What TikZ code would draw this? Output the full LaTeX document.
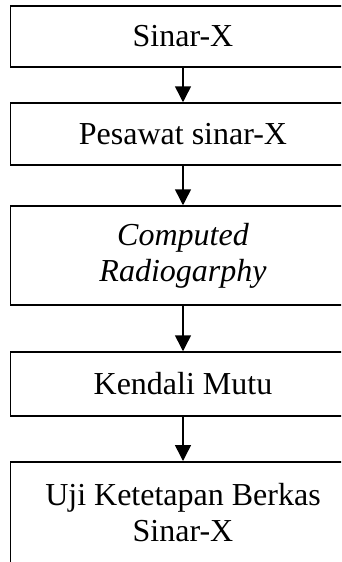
\documentclass[tikz,border=0pt]{standalone}
\usepackage{fontspec}
\setmainfont{Liberation Serif}
\usepackage{xcolor}
\usetikzlibrary{arrows.meta,positioning}
\definecolor{ink}{HTML}{000000}
\tikzset{
  kotak/.style={draw=ink,line width=1.5pt,minimum width=345pt,align=center,
                inner sep=0pt,font=\fontsize{32}{36}\selectfont},
  panah/.style={draw=ink,line width=1.5pt,-{Triangle[width=16pt,length=16pt]}}
}

\begin{document}
\begin{tikzpicture}[x=1pt,y=-1pt]
      \useasboundingbox (0,0) rectangle (341,562);
      \clip (0,0) rectangle (341,562);
      \node[kotak,minimum height=61pt] (sinar) at (183,36.5) {Sinar-X};
      \node[kotak,minimum height=62pt] (pesawat) at (183,134) {Pesawat sinar-X};
      \node[kotak,minimum height=99pt,font=\fontsize{32}{36}\selectfont\itshape]
        (cr) at (183,255.5) {Computed\\Radiogarphy};
      \node[kotak,minimum height=64pt] (mutu) at (183,384) {Kendali Mutu};
      \node[kotak,anchor=north,inner ysep=22pt,text depth=30pt]
        (uji) at (183,461) {Uji Ketetapan Berkas\\Sinar-X};
      \draw[panah] (sinar) -- (pesawat);
      \draw[panah] (pesawat) -- (cr);
      \draw[panah] (cr) -- (mutu);
      \draw[panah] (mutu) -- (uji);
    \end{tikzpicture}
\end{document}
